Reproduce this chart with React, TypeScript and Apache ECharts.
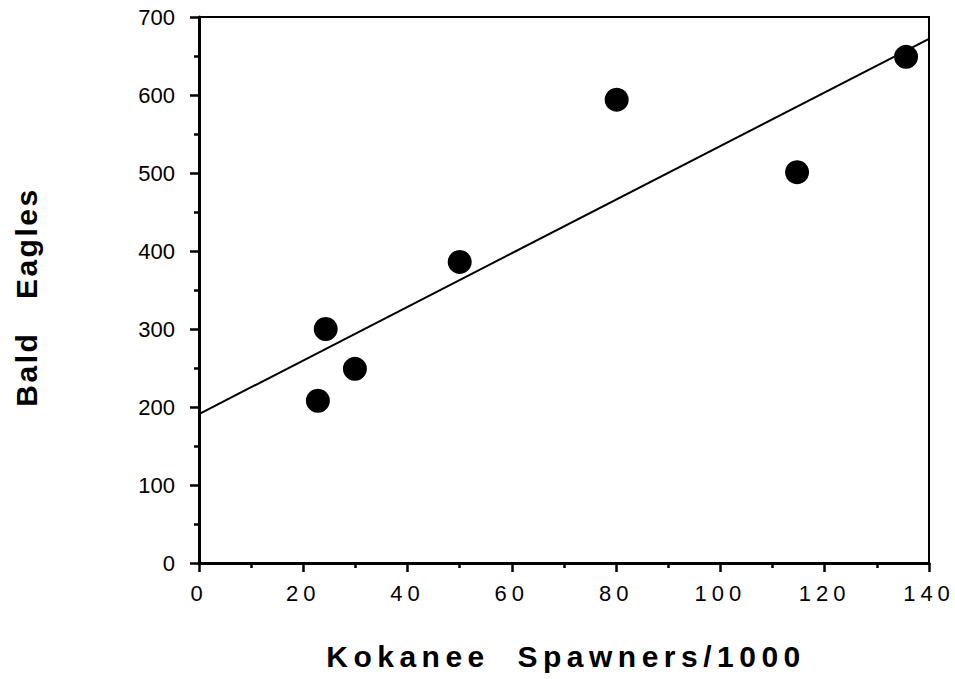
import React, { useEffect, useRef } from "react";
import * as echarts from "echarts";

const spawners = [22.8, 24.3, 29.9, 50.0, 80.1, 114.7, 135.6];
const eagles = [208, 300, 249, 386, 594, 501, 649];
const fitX = [0, 140];
const fitY = [191, 672];
const xTitle = "Kokanee  Spawners/1000";
const yTitle = "Bald   Eagles";

const FONT = "'Liberation Sans', Arial, sans-serif";

export default function App() {
  const ref = useRef<HTMLDivElement>(null);
  useEffect(() => {
    if (!ref.current) return;
    const chart = echarts.init(ref.current, undefined, { renderer: "svg" });
    chart.setOption({
      animation: false,
      backgroundColor: "#fff",
      grid: {
        left: 199,
        top: 17,
        right: 26,
        bottom: 116,
        show: true,
        borderColor: "#000",
        borderWidth: 2,
        backgroundColor: "transparent",
      },
      xAxis: {
        type: "value",
        min: 0,
        max: 140,
        interval: 20,
        splitLine: { show: false },
        axisLine: { show: true, onZero: false, lineStyle: { color: "#000", width: 3 } },
        axisTick: { show: true, inside: false, length: 9, lineStyle: { color: "#000", width: 2.5 } },
        minorTick: { show: true, splitNumber: 2, length: 5, lineStyle: { color: "#000", width: 2.5 } },
        minorSplitLine: { show: false },
        axisLabel: { color: "#000", fontSize: 22, fontFamily: FONT, margin: 19 },
      },
      yAxis: {
        type: "value",
        min: 0,
        max: 700,
        interval: 100,
        splitLine: { show: false },
        axisLine: { show: true, onZero: false, lineStyle: { color: "#000", width: 3 } },
        axisTick: { show: true, inside: false, length: 9, lineStyle: { color: "#000", width: 2.5 } },
        minorTick: { show: true, splitNumber: 2, length: 5, lineStyle: { color: "#000", width: 2.5 } },
        minorSplitLine: { show: false },
        axisLabel: { color: "#000", fontSize: 22, fontFamily: FONT, margin: 24 },
      },
      graphic: [
        {
          type: "text",
          x: 566,
          y: 656,
          style: {
            text: xTitle,
            fill: "#000",
            font: `bold 30px ${FONT}`,
            textAlign: "center",
            textVerticalAlign: "middle",
          },
        },
        {
          type: "text",
          x: 26,
          y: 297,
          rotation: Math.PI / 2,
          style: {
            text: yTitle,
            fill: "#000",
            font: `bold 30px ${FONT}`,
            textAlign: "center",
            textVerticalAlign: "middle",
          },
        },
      ],
      series: [
        {
          type: "line",
          data: fitX.map((x, i) => [x, fitY[i]]),
          symbol: "none",
          lineStyle: { color: "#000", width: 2 },
          z: 2,
          silent: true,
        },
        {
          type: "scatter",
          data: spawners.map((x, i) => [x, eagles[i]]),
          symbol: "circle",
          symbolSize: 24,
          itemStyle: { color: "#000", opacity: 1 },
          z: 3,
        },
      ],
    });
    const applySpacing = () => {
      const root = ref.current;
      if (!root) return;
      root.querySelectorAll("text").forEach((t) => {
        const s = t.textContent || "";
        const anchor = t.getAttribute("text-anchor") || (t as any).style?.textAnchor;
        if (s === xTitle) {
          t.style.letterSpacing = "5.5px";
        } else if (s === yTitle) {
          t.style.letterSpacing = "2.5px";
        } else if (/^\d+$/.test(s) && anchor === "middle") {
          t.style.letterSpacing = "5px";
        }
      });
    };
    applySpacing();
    chart.on("finished", applySpacing);
    return () => chart.dispose();
  }, []);
  return (
    <div
      ref={ref}
      style={{ position: "absolute", left: 0, top: 0, width: 955, height: 679 }}
    />
  );
}
